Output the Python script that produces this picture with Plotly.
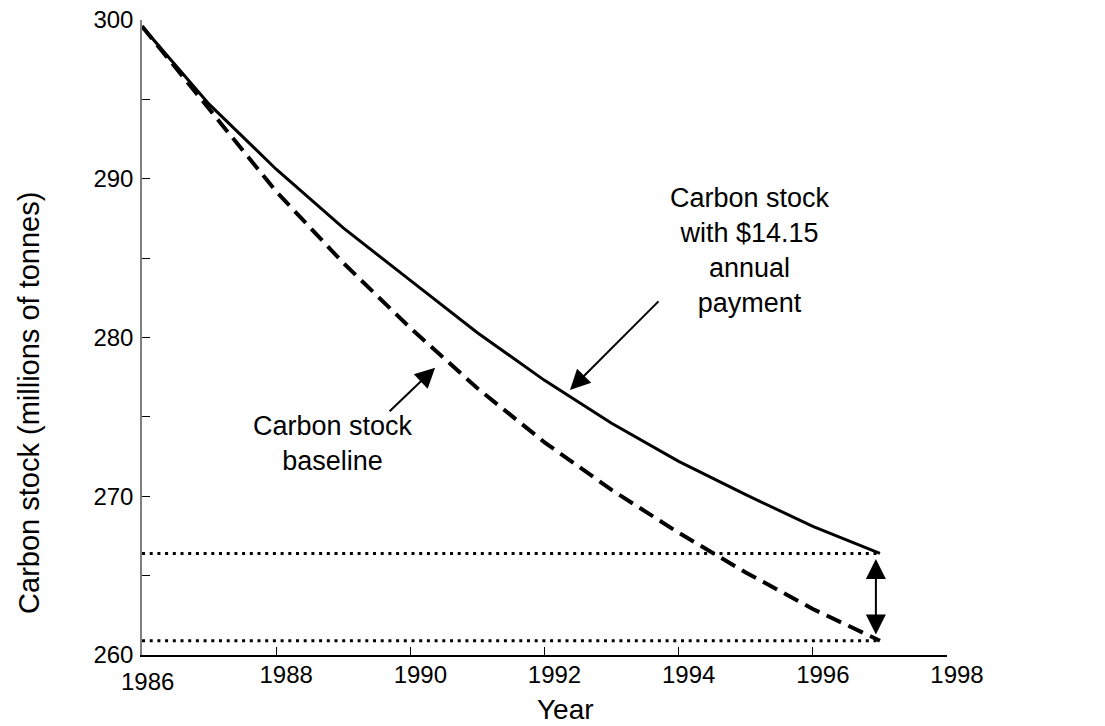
import plotly.graph_objects as go

years = [1986, 1987, 1988, 1989, 1990, 1991, 1992, 1993, 1994, 1995, 1996, 1997]
stock_payment = [299.6, 294.7, 290.6, 286.9, 283.6, 280.3, 277.3, 274.6, 272.2, 270.1, 268.1, 266.4]
stock_baseline = [299.6, 294.4, 289.2, 284.7, 280.6, 276.8, 273.4, 270.4, 267.7, 265.2, 262.9, 260.9]

x_ticks = [1988, 1990, 1992, 1994, 1996, 1998]
y_ticks = [260, 265, 270, 275, 280, 285, 290, 295, 300]
y_ticktext = ["260", "", "270", "", "280", "", "290", "", "300"]

FONT = "Arial, Liberation Sans, sans-serif"

fig = go.Figure()

# dotted reference lines at end values
fig.add_trace(go.Scatter(x=[years[0], years[-1]], y=[stock_payment[-1]] * 2, mode="lines",
                         line=dict(color="black", width=3, dash="3px,4.7px"), hoverinfo="skip"))
fig.add_trace(go.Scatter(x=[years[0], years[-1]], y=[stock_baseline[-1]] * 2, mode="lines",
                         line=dict(color="black", width=3, dash="3px,4.7px"), hoverinfo="skip"))

fig.add_trace(go.Scatter(x=years, y=stock_baseline, mode="lines",
                         line=dict(color="black", width=4, dash="16px,8px")))
fig.add_trace(go.Scatter(x=years, y=stock_payment, mode="lines",
                         line=dict(color="black", width=3)))

ann_font = dict(family=FONT, size=27, color="black")
arrow_style = dict(showarrow=True, arrowhead=2, arrowsize=2.0, arrowwidth=2, arrowcolor="black")

annotations = [
    # arrow to payment curve
    dict(x=1992.38, y=276.7, xref="x", yref="y", ax=90, ay=-90, text="", **arrow_style),
    # arrow to baseline curve
    dict(x=1990.37, y=278.1, xref="x", yref="y", ax=-47, ay=45, text="", **arrow_style),
    # double arrow
    dict(x=1996.94, y=stock_payment[-1] - 0.35, xref="x", yref="y",
         ax=1996.94, ay=stock_baseline[-1] + 0.3, axref="x", ayref="y", text="",
         startarrowhead=2, arrowside="end+start", startarrowsize=2.0, **arrow_style),
    dict(x=1995.06, y=285.5, xref="x", yref="y", showarrow=False, font=ann_font,
         xanchor="center", yanchor="middle",
         text="Carbon stock<br>with $14.15<br>annual<br>payment", align="center"),
    dict(x=1988.85, y=273.3, xref="x", yref="y", showarrow=False, font=ann_font,
         xanchor="center", yanchor="middle",
         text="Carbon stock<br>baseline", align="center"),
    dict(x=1998.79, y=263.8, xref="x", yref="y", showarrow=False, font=ann_font,
         xanchor="center", yanchor="middle",
         text="Cumulative<br>carbon supply in<br>1997", align="center"),
    # axis titles
    dict(x=0.5267, y=-0.0865, xref="paper", yref="paper", showarrow=False,
         xanchor="center", yanchor="middle",
         text="Year", font=dict(family=FONT, size=28, color="black")),
    dict(x=-0.1404, y=0.397, xref="paper", yref="paper", showarrow=False, textangle=-90,
         xanchor="center", yanchor="middle",
         text="Carbon stock (millions of tonnes)", font=dict(family=FONT, size=29, color="black")),
    # first x label, shown lower as in the original
    dict(x=1986, y=-0.0425, xref="x", yref="paper", xshift=5, showarrow=False,
         xanchor="center", yanchor="middle",
         text="1986", font=dict(family=FONT, size=24, color="black")),
]

fig.update_layout(
    width=1105, height=726,
    margin=dict(l=142, r=158, t=20, b=71),
    paper_bgcolor="white", plot_bgcolor="white",
    showlegend=False,
    font=dict(family=FONT, size=24, color="black"),
    annotations=annotations,
    xaxis=dict(range=[1986, 1998], tickvals=x_ticks, ticks="inside", ticklen=8, tickwidth=1,
               tickcolor="black", showline=True, linecolor="black", linewidth=1.5,
               showgrid=False, zeroline=False, ticklabelshift=10, ticklabelstandoff=-3,
               automargin=False,
               tickfont=dict(family=FONT, size=24, color="black")),
    yaxis=dict(range=[260, 300], tickvals=y_ticks, ticktext=y_ticktext, ticks="inside",
               ticklen=8, tickwidth=1, tickcolor="black", showline=True, linecolor="#7f7f7f",
               linewidth=1.5, showgrid=False, zeroline=False, ticklabelstandoff=2,
               automargin=False,
               tickfont=dict(family=FONT, size=24, color="black")),
)

fig.write_html("out.html", config={"displayModeBar": False},
               post_script="document.body.style.margin='0';document.body.style.overflow='hidden';")
